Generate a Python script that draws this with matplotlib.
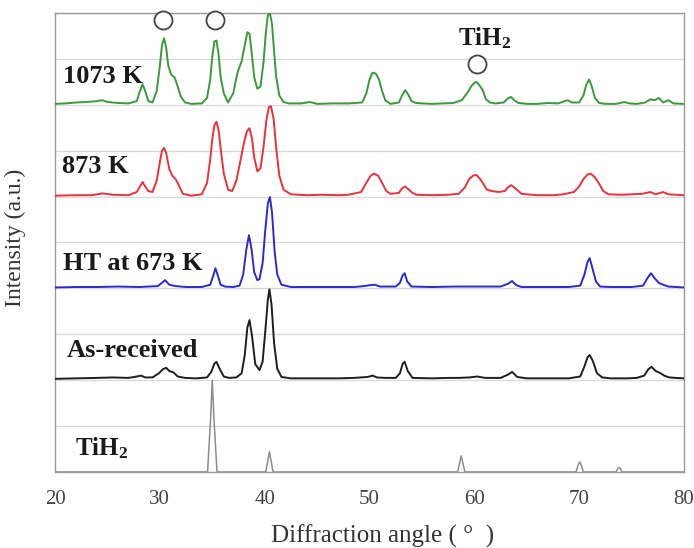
import matplotlib
matplotlib.use("Agg")
import matplotlib.pyplot as plt
import numpy as np

plt.rcParams['font.family'] = ['Liberation Serif', 'DejaVu Serif']
plt.rcParams['mathtext.fontset'] = 'custom'
plt.rcParams['mathtext.rm'] = 'Liberation Serif'
plt.rcParams['mathtext.bf'] = 'Liberation Serif:bold'
plt.rcParams['mathtext.it'] = 'Liberation Serif:italic'

# ---------------- data (2-theta in degrees, relative intensity) ----------------
x_1073 = [20.0, 21.0, 22.0, 23.0, 24.0, 24.5, 25.0, 26.0, 27.0, 27.8, 28.1, 28.35, 28.6, 28.9, 29.3, 29.7, 30.0,
          30.2, 30.4, 30.6, 30.8, 31.1, 31.4, 31.7, 32.0, 32.4, 33.0, 34.0, 34.5, 34.8, 35.0, 35.2, 35.4, 35.6,
          35.8, 36.1, 36.5, 37.0, 37.4, 37.8, 38.1, 38.35, 38.55, 38.75, 39.0, 39.3, 39.6, 39.9, 40.1, 40.3,
          40.5, 40.7, 40.9, 41.1, 41.4, 41.8, 42.3, 43.5, 44.3, 45.0, 46.5, 48.0, 49.3, 49.7, 50.0, 50.3, 50.6,
          50.9, 51.2, 51.5, 52.0, 52.8, 53.1, 53.4, 53.7, 54.0, 54.4, 55.0, 56.0, 57.0, 58.0, 58.8, 59.3, 59.7,
          60.0, 60.2, 60.5, 60.8, 61.1, 61.5, 62.0, 62.8, 63.2, 63.5, 63.8, 64.2, 65.0, 66.0, 67.0, 68.0, 68.9,
          69.3, 70.0, 70.4, 70.7, 70.95, 71.2, 71.5, 71.9, 72.5, 73.5, 74.3, 74.8, 75.5, 76.3, 76.8, 77.2, 77.6,
          78.0, 78.5, 79.0, 80.0]
y_1073 = [0.02, 0.03, 0.05, 0.06, 0.08, 0.10, 0.06, 0.04, 0.03, 0.08, 0.30, 0.45, 0.30, 0.08, 0.05, 0.30, 0.85,
          1.30, 1.45, 1.25, 0.85, 0.65, 0.60, 0.40, 0.18, 0.05, 0.02, 0.03, 0.15, 0.55, 1.05, 1.38, 1.40, 1.10,
          0.60, 0.25, 0.05, 0.25, 0.70, 0.95, 1.30, 1.58, 1.55, 1.15, 0.60, 0.35, 0.40, 0.95, 1.55, 1.95, 2.00,
          1.75, 1.15, 0.60, 0.20, 0.06, 0.03, 0.03, 0.06, 0.02, 0.03, 0.03, 0.05, 0.25, 0.55, 0.70, 0.68, 0.55,
          0.30, 0.10, 0.02, 0.05, 0.20, 0.32, 0.22, 0.08, 0.04, 0.03, 0.02, 0.03, 0.04, 0.10, 0.25, 0.40, 0.48,
          0.50, 0.42, 0.32, 0.12, 0.05, 0.03, 0.05, 0.14, 0.17, 0.10, 0.04, 0.02, 0.02, 0.04, 0.03, 0.10, 0.05,
          0.05, 0.20, 0.45, 0.55, 0.40, 0.15, 0.04, 0.02, 0.02, 0.06, 0.03, 0.02, 0.05, 0.12, 0.10, 0.15, 0.05,
          0.10, 0.03, 0.02]

x_873 = [20.0, 22.0, 23.5, 24.5, 25.5, 27.0, 27.8, 28.1, 28.35, 28.6, 28.9, 29.3, 29.7, 30.0, 30.2, 30.4, 30.6,
         30.9, 31.2, 31.5, 31.8, 32.2, 33.0, 34.0, 34.5, 34.8, 35.0, 35.2, 35.4, 35.6, 35.8, 36.1, 36.5, 36.9,
         37.3, 37.7, 38.0, 38.3, 38.55, 38.8, 39.0, 39.3, 39.6, 39.9, 40.15, 40.4, 40.6, 40.85, 41.1, 41.4,
         41.8, 42.5, 44.0, 45.5, 47.0, 48.0, 49.2, 49.7, 50.1, 50.4, 50.8, 51.2, 51.6, 52.0, 52.8, 53.1, 53.4,
         53.7, 54.1, 54.5, 56.0, 57.5, 58.5, 59.1, 59.5, 59.9, 60.2, 60.5, 60.8, 61.2, 61.7, 62.3, 62.9, 63.2,
         63.5, 63.9, 64.5, 66.0, 67.5, 68.5, 69.5, 70.0, 70.4, 70.8, 71.1, 71.5, 71.9, 72.3, 72.8, 74.0, 75.0,
         76.0, 76.8, 77.3, 78.0, 78.5, 80.0]
y_873 = [0.02, 0.03, 0.03, 0.07, 0.04, 0.03, 0.10, 0.22, 0.32, 0.22, 0.12, 0.10, 0.35, 0.75, 1.00, 1.06, 0.95,
         0.60, 0.45, 0.38, 0.25, 0.06, 0.02, 0.05, 0.30, 0.80, 1.25, 1.55, 1.63, 1.45, 1.05, 0.50, 0.15, 0.12,
         0.35, 0.80, 1.15, 1.42, 1.49, 1.25, 0.85, 0.55, 0.62, 1.10, 1.65, 1.95, 1.97, 1.70, 1.05, 0.45, 0.15,
         0.05, 0.03, 0.04, 0.03, 0.04, 0.10, 0.30, 0.45, 0.50, 0.46, 0.30, 0.12, 0.06, 0.08, 0.18, 0.22, 0.16,
         0.08, 0.04, 0.03, 0.04, 0.06, 0.20, 0.38, 0.46, 0.47, 0.40, 0.30, 0.15, 0.12, 0.10, 0.12, 0.20, 0.25,
         0.18, 0.06, 0.03, 0.03, 0.05, 0.10, 0.22, 0.38, 0.48, 0.50, 0.42, 0.28, 0.12, 0.05, 0.04, 0.05, 0.06,
         0.10, 0.05, 0.10, 0.05, 0.03]

x_673 = [20.0, 22.0, 24.0, 26.0, 28.0, 29.8, 30.2, 30.5, 30.9, 31.5, 32.5, 34.0, 34.8, 35.1, 35.3, 35.5, 35.8,
         36.2, 37.0, 37.6, 37.95, 38.25, 38.5, 38.75, 39.0, 39.3, 39.5, 39.8, 40.05, 40.3, 40.5, 40.7, 40.95,
         41.2, 41.6, 42.5, 45.0, 47.0, 48.5, 49.5, 50.0, 50.5, 51.0, 52.5, 52.9, 53.15, 53.35, 53.6, 54.0, 56.0,
         58.0, 60.0, 62.5, 63.2, 63.6, 64.0, 64.5, 67.0, 69.0, 70.1, 70.5, 70.8, 71.0, 71.25, 71.6, 72.0, 73.0,
         75.0, 76.1, 76.5, 76.85, 77.2, 77.6, 78.0, 78.5, 80.0]
y_673 = [0.02, 0.03, 0.03, 0.04, 0.03, 0.05, 0.12, 0.18, 0.08, 0.05, 0.03, 0.03, 0.08, 0.28, 0.44, 0.30, 0.08,
         0.04, 0.03, 0.06, 0.30, 0.85, 1.16, 0.85, 0.35, 0.18, 0.20, 0.55, 1.25, 1.85, 1.99, 1.65, 0.80, 0.30,
         0.08, 0.03, 0.03, 0.03, 0.03, 0.05, 0.07, 0.08, 0.04, 0.04, 0.12, 0.28, 0.33, 0.15, 0.04, 0.03, 0.04,
         0.04, 0.04, 0.10, 0.16, 0.07, 0.03, 0.03, 0.03, 0.06, 0.30, 0.58, 0.66, 0.45, 0.15, 0.04, 0.03, 0.03,
         0.06, 0.22, 0.33, 0.22, 0.12, 0.08, 0.04, 0.02]

x_asrec = [20.0, 22.0, 24.0, 25.5, 27.0, 27.8, 28.2, 28.6, 29.3, 29.9, 30.3, 30.6, 30.9, 31.3, 31.7, 32.4, 33.5,
           34.5, 34.9, 35.2, 35.4, 35.7, 36.1, 36.6, 37.3, 37.8, 38.1, 38.35, 38.55, 38.8, 39.1, 39.5, 39.8,
           40.05, 40.3, 40.45, 40.65, 40.9, 41.2, 41.6, 42.5, 45.0, 47.0, 48.5, 49.8, 50.3, 50.7, 51.5, 52.5,
           52.9, 53.15, 53.35, 53.65, 54.1, 56.0, 57.5, 58.5, 59.5, 60.3, 61.0, 62.5, 63.2, 63.6, 64.1, 65.0,
           67.0, 69.0, 70.1, 70.5, 70.8, 71.0, 71.3, 71.7, 72.2, 73.0, 74.5, 75.5, 76.2, 76.6, 76.9, 77.3, 77.7,
           78.1, 78.6, 79.2, 80.0]
y_asrec = [0.03, 0.04, 0.05, 0.06, 0.05, 0.08, 0.10, 0.06, 0.06, 0.15, 0.24, 0.27, 0.20, 0.17, 0.08, 0.05, 0.04,
           0.06, 0.18, 0.36, 0.40, 0.25, 0.08, 0.05, 0.06, 0.15, 0.55, 1.15, 1.31, 0.95, 0.35, 0.22, 0.40, 1.05,
           1.75, 1.98, 1.65, 0.80, 0.25, 0.07, 0.04, 0.04, 0.04, 0.05, 0.07, 0.10, 0.06, 0.05, 0.05, 0.15, 0.35,
           0.40, 0.20, 0.05, 0.04, 0.05, 0.05, 0.06, 0.08, 0.05, 0.05, 0.12, 0.18, 0.07, 0.04, 0.04, 0.04, 0.08,
           0.30, 0.50, 0.55, 0.42, 0.15, 0.06, 0.04, 0.04, 0.05, 0.10, 0.24, 0.29, 0.20, 0.16, 0.10, 0.06, 0.05,
           0.04]

x_tih2 = [20.0, 34.55, 34.85, 35.0, 35.15, 35.45, 40.1, 40.3, 40.45, 40.6, 40.8, 58.4, 58.6, 58.75, 58.9, 59.1,
          69.7, 69.9, 70.05, 70.2, 70.4, 73.5, 73.7, 73.85, 74.1, 80.0]
y_tih2 = [0.0, 0.0, 1.2, 2.0, 1.2, 0.0, 0.0, 0.25, 0.44, 0.25, 0.0, 0.0, 0.2, 0.35, 0.2, 0.0,
          0.0, 0.15, 0.22, 0.15, 0.0, 0.0, 0.08, 0.10, 0.0, 0.0]

series_labels = ['1073 K', '873 K', 'HT at 673 K', 'As-received', r'TiH$_\mathbf{2}$']
series_offsets = [8, 6, 4, 2, 0]
series_colors = ['#3a9a3a', '#e8323c', '#2a2ad0', '#1e1e1e', '#8c8c8c']

# TiH2 peak markers (open circles)
marker_x = [30.3, 35.3, 60.3]
marker_y = [9.85, 9.85, 8.88]

x_ticks = [20, 30, 40, 50, 60, 70, 80]

# ---------------- figure ----------------
fig = plt.figure(figsize=(6.94, 5.48), dpi=100)
ax = fig.add_axes([0.0793, 0.1387, 0.9063, 0.8376])

xs = [x_1073, x_873, x_673, x_asrec, x_tih2]
ys = [y_1073, y_873, y_673, y_asrec, y_tih2]
lws = [1.4, 1.4, 1.4, 1.4, 1.1]
for xv, yv, off, col, lw in zip(xs, ys, series_offsets, series_colors, lws):
    ax.plot(xv, np.asarray(yv) + off, color=col, lw=lw, zorder=3, solid_joinstyle='round')

ax.set_xlim(20, 80)
ax.set_ylim(0, 10)
ax.set_xticks(x_ticks)
ax.set_yticks(np.arange(0, 11, 1))
ax.yaxis.grid(True, color='#d9d9d9', lw=0.9, zorder=0)
ax.set_yticklabels([])
ax.tick_params(axis='y', length=0)
ax.tick_params(axis='x', length=0, pad=13, labelsize=15, labelcolor='#444444')
for sp in ax.spines.values():
    sp.set_color('#9a9a9a')
    sp.set_linewidth(1.0)

# series labels
label_pos_x = [20.76, 20.67, 20.76, 21.1, 21.9]
label_pos_y = [8.47, 6.51, 4.40, 2.51, 0.37]
for lx, ly, txt in zip(label_pos_x, label_pos_y, series_labels):
    ax.text(lx, ly, txt, fontsize=19 if 'TiH' not in txt else 18, fontweight='bold',
            color='#1a1a1a', va='baseline', ha='left', zorder=4)

ax.plot(marker_x, marker_y, linestyle='none', marker='o', markersize=13,
        markerfacecolor='white', markeredgecolor='#444444', markeredgewidth=1.3,
        clip_on=False, zorder=5)
ax.text(58.45, 9.30, r'TiH$_\mathbf{2}$', fontsize=18, fontweight='bold', color='#1a1a1a',
        va='baseline', ha='left', zorder=4)

ax.set_xlabel('Diffraction angle ( °  )', fontsize=18, color='#333333')
ax.xaxis.set_label_coords(0.52, -0.115)
ax.set_ylabel('Intensity (a.u.)', fontsize=17, color='#333333')
ax.yaxis.set_label_coords(-0.046, 0.51)

fig.savefig('out.png', dpi=100)
